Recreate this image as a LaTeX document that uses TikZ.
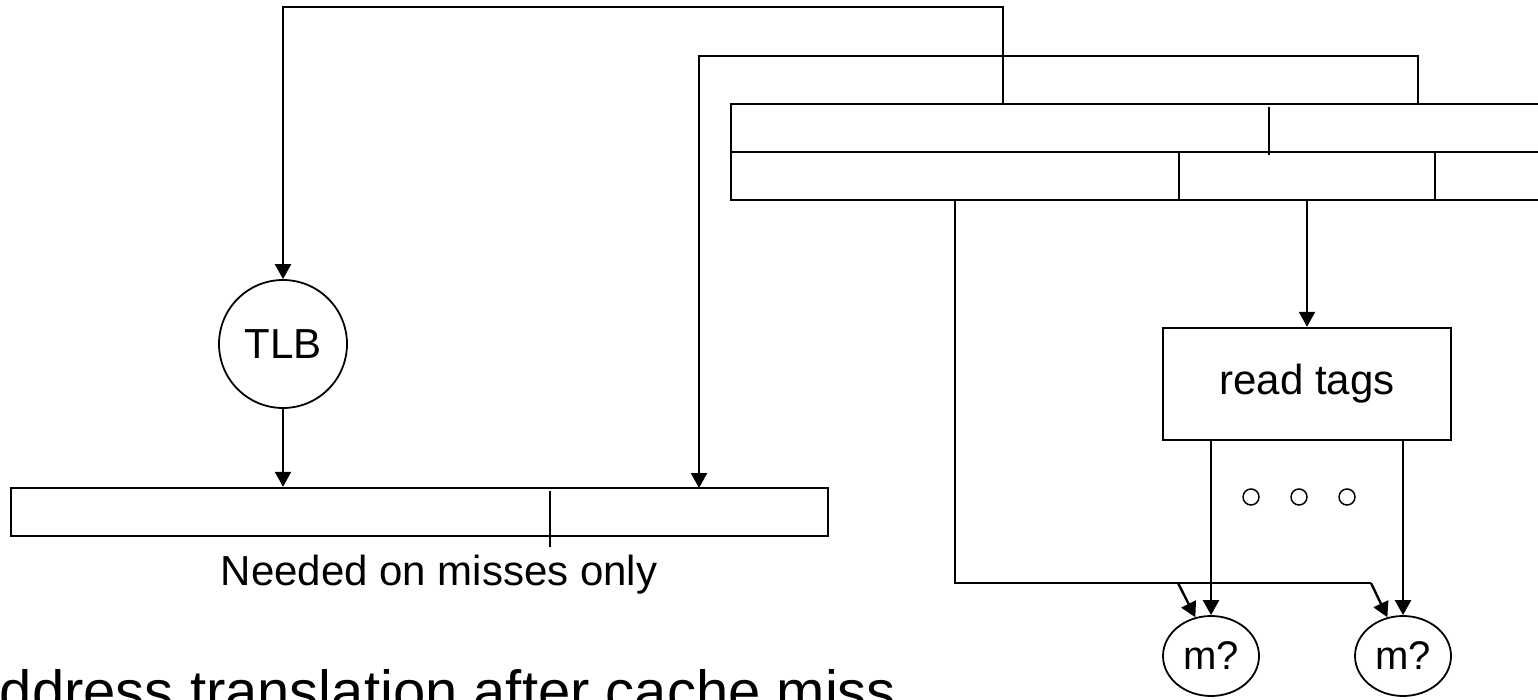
\documentclass[tikz,border=0pt]{standalone}
\usepackage{fontspec}
\setmainfont{Liberation Sans}
\usepackage{tikz}
\usetikzlibrary{arrows.meta,positioning,shapes.geometric}
\tikzset{
  field/.style={draw=black, line width=2.4pt, inner sep=0pt, minimum height=48pt},
  wire/.style={draw=black, line width=2.4pt},
  conn/.style={wire, -{Triangle[length=15pt,width=16pt]}},
  thindiv/.style={draw=black, line width=1.4pt},
  tlbnode/.style={circle, draw=black, line width=1.8pt, minimum size=128pt,
                  inner sep=0pt, font=\fontsize{42}{50}\selectfont},
  tagbox/.style={rectangle, draw=black, line width=2.4pt, minimum width=288pt,
                 minimum height=112pt, inner sep=0pt, font=\fontsize{42}{50}\selectfont},
  cmpnode/.style={ellipse, draw=black, line width=1.8pt, minimum width=96pt,
                  minimum height=80pt, inner sep=0pt, font=\fontsize{40}{48}\selectfont},
  dotnode/.style={circle, draw=black, line width=1.5pt, minimum size=16pt, inner sep=0pt},
  note/.style={inner sep=0pt, font=\fontsize{42}{50}\selectfont},
  caption/.style={inner sep=0pt, font=\fontsize{58}{66}\selectfont},
}

\begin{document}
\begin{tikzpicture}[x=1pt, y=-1pt]
\useasboundingbox (0,0) rectangle (1538,700);

\node[field, minimum width=814pt] (va) at (1138,128) {};
\node[field, minimum width=814pt] (ca) at (1138,176) {};
\node[field, minimum width=817pt] (pa) at (419.5,512) {};
\draw[thindiv] (1269,107) -- (1269,155);
\draw[wire] (1179,152) -- (1179,200);
\draw[thindiv] (1435,152) -- (1435,200);
\draw[thindiv] (550,491) -- (550,547);

\node[tlbnode] (tlb) at (283,344) {TLB};
\node[tagbox] (rt) at (1307,384) {read tags};
\node[cmpnode] (m1) at (1211,656) {m?};
\node[cmpnode] (m2) at (1403,656) {m?};
\foreach \x in {1251,1299,1347}
  \node[dotnode] (dot\x) at (\x,497) {};

\node[note, anchor=base] (need) at (439,585) {Needed on misses only};
\node[caption, anchor=base west] (title) at (-39,711) {Address translation after cache miss};

\coordinate (vpn) at (1003,104);
\coordinate (pgoff) at (1418,104);
\coordinate (tagf) at (955,200);
\coordinate (idxf) at (1307,200);
\coordinate (poff) at (699,488);
\coordinate (j1) at (1178,583);
\coordinate (j2) at (1371,583);

\draw[conn] (vpn) -- ++(0,-97) -| (tlb.north);
\draw[conn] (pgoff) -- ++(0,-48) -| (poff);
\draw[conn] (tlb.south) -- (tlb.south |- pa.north);
\draw[conn] (idxf) -- (rt.north);
\draw[wire] (tagf) |- (j2);
\draw[conn] (j1) -- (m1.112);
\draw[conn] (j2) -- (m2.112);
\draw[conn] (rt.south -| m1.north) -- (m1.north);
\draw[conn] (rt.south -| m2.north) -- (m2.north);
\end{tikzpicture}
\end{document}
